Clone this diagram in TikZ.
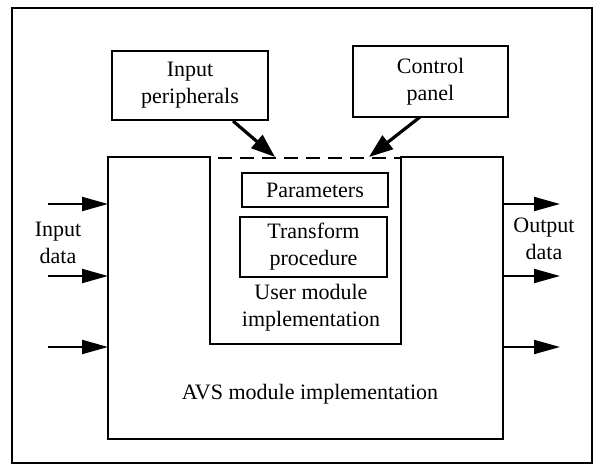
\documentclass[tikz,border=0pt]{standalone}
\usepackage{fontspec}
\setmainfont{Liberation Serif}
\usetikzlibrary{arrows.meta}
\begin{document}
\begin{tikzpicture}[x=1pt,y=-1pt,
  every node/.style={font=\fontsize{22}{27}\selectfont, inner sep=0pt, outer sep=0pt},
  box/.style={draw, line width=1.8pt, minimum width=#1, align=center},
  lbl/.style={align=center},
  thickarrow/.style={line width=3.2pt, -{Triangle[length=24pt,width=17pt]}},
  dataarrow/.style={line width=2pt, -{Triangle[length=26pt,width=14pt]}}
]
\useasboundingbox (0,0) rectangle (595,468);
% outer frame
\draw[line width=2.8pt] (12,8) rectangle (592,463);
% AVS U-shaped box
\draw[line width=1.7pt] (108,157) -- (210,157) -- (210,344) -- (401,344) -- (401,157) -- (503,157) -- (503,439) -- (108,439) -- cycle;
\coordinate (dashL) at (210,158);
\coordinate (dashR) at (401,158);
\draw[line width=2pt, dash pattern=on 14pt off 8pt, dash phase=-8pt] (dashL) -- (dashR);
% top boxes
\node[box=156pt, minimum height=69pt] (inp) at (190,85.5) {Input\\peripherals};
\node[box=155pt, minimum height=71pt] (ctrl) at (430.5,81.5) {Control\\panel};
% inner boxes
\node[box=146pt, minimum height=34pt] (par) at (315,190) {Parameters};
\node[box=147pt, minimum height=60pt] (trf) at (313.5,247) {Transform\\procedure};
% labels
\node[lbl] (user) at (311,308) {User module\\implementation};
\node[lbl] (avs) at (310,394) {AVS module implementation};
\node[lbl] (indata) at (58,243) {Input\\data};
\node[lbl] (outdata) at (544,239) {Output\\data};
% diagonal arrows
\coordinate (inpS) at (233,121);
\coordinate (inpT) at (275,157);
\coordinate (ctrlS) at (420,117);
\coordinate (ctrlT) at (369,157);
\draw[thickarrow] (inpS) -- (inpT);
\draw[thickarrow] (ctrlS) -- (ctrlT);
% input data arrows
\foreach \y/\n in {204/a,276/b,347/c}{
  \coordinate (in\n s) at (48,\y);
  \coordinate (in\n t) at (108,\y);
  \draw[dataarrow] (in\n s) -- (in\n t);
  \coordinate (out\n s) at (503,\y);
  \coordinate (out\n t) at (560,\y);
  \draw[dataarrow] (out\n s) -- (out\n t);
}
\end{tikzpicture}
\end{document}
